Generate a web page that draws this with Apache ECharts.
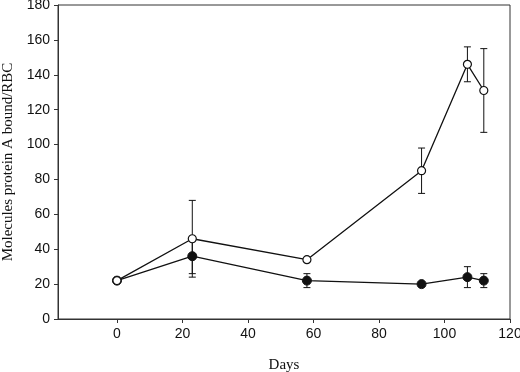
<!DOCTYPE html>
<html>
<head>
<meta charset="utf-8">
<script src="https://cdn.jsdelivr.net/npm/echarts@6/dist/echarts.min.js"></script>
<style>
  html, body { margin: 0; padding: 0; background: #fff; }
  #chart { width: 520px; height: 372px; }
</style>
</head>
<body>
<div id="chart"></div>
<script>
// days of sampling
var days = [0, 23, 58, 93, 107, 112]
// open circles
var openMean = [22, 46, 34, 85, 146, 131]
var openLow = [null, 24, null, 72, 136, 107]
var openHigh = [null, 68, null, 98, 156, 155]
// filled circles
var filledMean = [22, 36, 22, 20, 24, 22]
var filledLow = [null, 26, 18, null, 18, 18]
var filledHigh = [null, 46, 26, null, 30, 26]
var xTicks = [0, 20, 40, 60, 80, 100, 120]

function pairs(ys) {
  return days.map(function (d, i) { return [d, ys[i]] })
}
function errData(lo, hi) {
  var out = []
  days.forEach(function (d, i) {
    if (lo[i] != null) out.push([d, lo[i], hi[i]])
  })
  return out
}

function errRender(params, api) {
  var x = api.value(0)
  var lo = api.coord([x, api.value(1)])
  var hi = api.coord([x, api.value(2)])
  var w = 3.5
  var st = { stroke: '#111', lineWidth: 1 }
  return {
    type: 'group',
    children: [
      { type: 'line', shape: { x1: lo[0], y1: lo[1], x2: hi[0], y2: hi[1] }, style: st },
      { type: 'line', shape: { x1: lo[0] - w, y1: lo[1], x2: lo[0] + w, y2: lo[1] }, style: st },
      { type: 'line', shape: { x1: hi[0] - w, y1: hi[1], x2: hi[0] + w, y2: hi[1] }, style: st }
    ]
  }
}

var chart = echarts.init(document.getElementById('chart'))
chart.setOption({
  animation: false,
  grid: {
    left: 58, right: 10, top: 5, bottom: 53,
    outerBoundsMode: 'none',
    containLabel: false,
    show: true, borderColor: '#333', borderWidth: 1
  },
  xAxis: {
    type: 'value',
    min: -18, max: 120,
    name: 'Days',
    nameLocation: 'middle',
    nameGap: 39,
    nameTextStyle: { fontFamily: 'Liberation Serif', fontSize: 15, color: '#111' },
    splitLine: { show: false },
    axisLine: { onZero: false, lineStyle: { color: '#333', width: 1 } },
    axisTick: { inside: false, length: 4, customValues: xTicks, lineStyle: { color: '#333' } },
    axisLabel: { customValues: xTicks, margin: 8, fontFamily: 'Liberation Sans', fontSize: 14, color: '#111' }
  },
  yAxis: {
    type: 'value',
    min: 0, max: 180, interval: 20,
    name: 'Molecules protein A bound/RBC',
    nameLocation: 'middle',
    nameGap: 42,
    nameTextStyle: { fontFamily: 'Liberation Serif', fontSize: 15, color: '#111' },
    splitLine: { show: false },
    axisLine: { show: true, onZero: false, lineStyle: { color: '#333', width: 1 } },
    axisTick: { show: true, length: 4, lineStyle: { color: '#333' } },
    axisLabel: { margin: 8, fontFamily: 'Liberation Sans', fontSize: 14, color: '#111' }
  },
  series: [
    {
      type: 'custom',
      renderItem: errRender,
      data: errData(filledLow, filledHigh),
      z: 1
    },
    {
      type: 'custom',
      renderItem: errRender,
      data: errData(openLow, openHigh),
      z: 1
    },
    {
      type: 'line',
      data: pairs(filledMean),
      symbol: 'circle',
      symbolSize: 9,
      itemStyle: { color: '#111', borderColor: '#111', borderWidth: 1 },
      lineStyle: { color: '#111', width: 1.3 },
      z: 3
    },
    {
      type: 'line',
      data: pairs(openMean),
      symbol: 'circle',
      symbolSize: 8,
      itemStyle: { color: '#fff', borderColor: '#111', borderWidth: 1.2 },
      lineStyle: { color: '#111', width: 1.3 },
      z: 4
    }
  ]
})
</script>
</body>
</html>
